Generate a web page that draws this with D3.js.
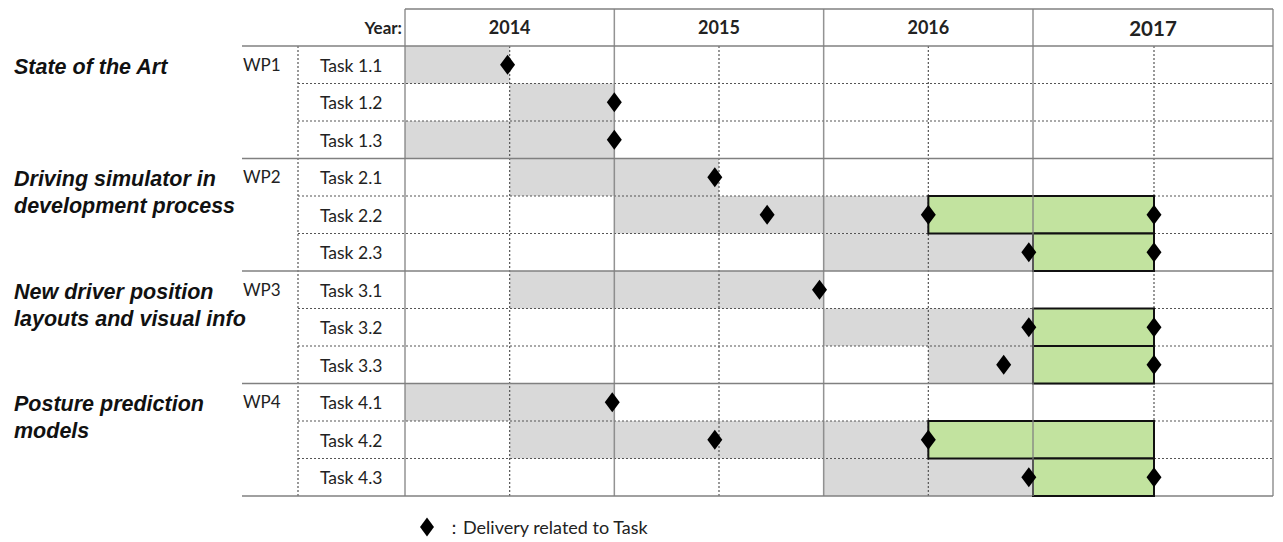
<!DOCTYPE html>
<html>
<head>
<meta charset="utf-8">
<script src="https://cdn.jsdelivr.net/npm/d3@7"></script>
<style>
  body { margin: 0; background: #fff; }
  svg { display: block; }
  .lbl { font-family: Lato, "Open Sans", sans-serif; fill: #222; }
  .wpt { font-family: "Liberation Sans", Arial, sans-serif; font-weight: bold; font-style: italic; font-size: 21.5px; fill: #111; }
</style>
</head>
<body>
<div id="chart"></div>
<script>
// years shown in header
const years = [2014, 2015, 2016, 2017];
const tasks = ["Task 1.1", "Task 1.2", "Task 1.3", "Task 2.1", "Task 2.2", "Task 2.3",
               "Task 3.1", "Task 3.2", "Task 3.3", "Task 4.1", "Task 4.2", "Task 4.3"];
const wps = ["WP1", "WP2", "WP3", "WP4"];
const wpTitles = [
  ["State of the Art"],
  ["Driving simulator in", "development process"],
  ["New driver position", "layouts and visual info"],
  ["Posture prediction", "models"]
];
// grey bars (work period), in years
const greyStart = [2014.0, 2014.5, 2014.0, 2014.5, 2015.0, 2016.0, 2014.5, 2016.0, 2016.5, 2014.0, 2014.5, 2016.0];
const greyEnd   = [2014.5, 2015.0, 2015.0, 2015.5, 2016.5, 2017.0, 2016.0, 2017.0, 2017.0, 2015.0, 2016.5, 2017.0];
// green bars (extension), null = none
const greenStart = [null, null, null, null, 2016.5, 2017.0, null, 2017.0, 2017.0, null, 2016.5, 2017.0];
const greenEnd   = [null, null, null, null, 2017.5, 2017.5, null, 2017.5, 2017.5, null, 2017.5, 2017.5];
// deliveries per task
const deliveries = [
  [2014.49], [2015.0], [2015.0], [2015.48], [2015.73, 2016.5, 2017.5], [2016.98, 2017.5],
  [2015.98], [2016.98, 2017.5], [2016.86, 2017.5], [2014.99], [2015.48, 2016.5], [2016.98, 2017.5]
];

const width = 1283, height = 542;
const svg = d3.select("#chart").append("svg")
  .attr("width", width)
  .attr("height", height);

// 2017 column is drawn a bit wider than the others
const x = d3.scaleLinear()
  .domain([2014, 2017, 2017.5, 2018])
  .range([405, 1033, 1154, 1273]);
const y = d3.scaleBand()
  .domain(tasks)
  .range([46, 496]);

const headTop = 9, headBottom = 46, bottom = 496;
const solid = "#808080", dotted = "#555";

// grey bars
svg.append("g").selectAll("rect")
  .data(tasks)
  .enter().append("rect")
  .attr("x", (d, i) => x(greyStart[i]))
  .attr("width", (d, i) => x(greyEnd[i]) - x(greyStart[i]))
  .attr("y", d => y(d))
  .attr("height", y.bandwidth())
  .attr("fill", "#d9d9d9");

const grid = svg.append("g");

// dotted row separators inside a WP
grid.selectAll(".row")
  .data(tasks.filter((d, i) => i % 3 !== 0))
  .enter().append("line")
  .attr("x1", 298).attr("x2", x(2018))
  .attr("y1", d => y(d)).attr("y2", d => y(d))
  .attr("stroke", dotted).attr("stroke-width", 1.2)
  .attr("stroke-dasharray", "2,2");

// half-year dotted verticals
grid.selectAll(".half")
  .data(years)
  .enter().append("line")
  .attr("x1", d => x(d + 0.5)).attr("x2", d => x(d + 0.5))
  .attr("y1", headBottom).attr("y2", bottom)
  .attr("stroke", dotted).attr("stroke-width", 1.2)
  .attr("stroke-dasharray", "2,2");

// left dotted vertical
grid.append("line")
  .attr("x1", 298).attr("x2", 298)
  .attr("y1", headBottom).attr("y2", bottom)
  .attr("stroke", dotted).attr("stroke-width", 1.2)
  .attr("stroke-dasharray", "2,2");

// WP separators + header bottom
const wpLines = [headBottom].concat(tasks.filter((d, i) => i % 3 === 0 && i > 0).map(d => y(d)), [bottom]);
grid.selectAll(".wp")
  .data(wpLines)
  .enter().append("line")
  .attr("x1", 242).attr("x2", x(2018))
  .attr("y1", d => d).attr("y2", d => d)
  .attr("stroke", solid).attr("stroke-width", 1.5);

// header top
grid.append("line")
  .attr("x1", x(2014)).attr("x2", x(2018))
  .attr("y1", headTop).attr("y2", headTop)
  .attr("stroke", solid).attr("stroke-width", 1.5);

// green bars
svg.append("g").selectAll("rect")
  .data(tasks.filter((d, i) => greenStart[i] !== null))
  .enter().append("rect")
  .attr("x", d => x(greenStart[tasks.indexOf(d)]))
  .attr("width", d => x(greenEnd[tasks.indexOf(d)]) - x(greenStart[tasks.indexOf(d)]))
  .attr("y", d => y(d))
  .attr("height", y.bandwidth())
  .attr("fill", "#c2e39f")
  .attr("stroke", "#111")
  .attr("stroke-width", 2);

// year solid verticals (drawn over the green, lightly)
svg.append("g").selectAll("line")
  .data(years.concat([2018]))
  .enter().append("line")
  .attr("x1", d => x(d)).attr("x2", d => x(d))
  .attr("y1", headTop).attr("y2", bottom)
  .attr("stroke", solid).attr("stroke-width", 1.5)
  .attr("stroke-opacity", 0.85);

// diamonds
const diamond = (w, h) => d3.line()([[0, -h / 2], [w / 2, 0], [0, h / 2], [-w / 2, 0]]) + "Z";
const dd = [];
tasks.forEach((t, i) => deliveries[i].forEach(v => dd.push({ t: t, v: v })));
svg.append("g").selectAll("path")
  .data(dd)
  .enter().append("path")
  .attr("d", diamond(15, 20))
  .attr("transform", d => "translate(" + x(d.v) + "," + (y(d.t) + y.bandwidth() / 2) + ")")
  .attr("fill", "#000");

// header texts
svg.append("text")
  .attr("class", "lbl")
  .attr("x", 402).attr("y", 34)
  .attr("text-anchor", "end")
  .style("font-weight", "bold").style("font-size", "17px")
  .text("Year:");
svg.selectAll(".yr")
  .data(years)
  .enter().append("text")
  .attr("class", "lbl")
  .attr("x", d => (x(d) + x(d + 1)) / 2)
  .attr("y", d => d === 2017 ? 36 : 34)
  .attr("text-anchor", "middle")
  .style("font-weight", "bold")
  .style("font-size", d => d === 2017 ? "20.5px" : "18px")
  .text(d => d);

// task labels
svg.selectAll(".task")
  .data(tasks)
  .enter().append("text")
  .attr("class", "lbl")
  .attr("x", 320)
  .attr("y", d => y(d) + y.bandwidth() / 2 + 7)
  .style("font-size", "17.5px")
  .text(d => d);

// WP labels
svg.selectAll(".wpl")
  .data(wps)
  .enter().append("text")
  .attr("class", "lbl")
  .attr("x", 243)
  .attr("y", (d, i) => y(tasks[i * 3]) + y.bandwidth() / 2 + 6)
  .style("font-size", "17px")
  .text(d => d);

// WP titles
const wt = svg.selectAll(".wpt")
  .data(wpTitles)
  .enter().append("text")
  .attr("class", "wpt")
  .attr("x", 14)
  .attr("y", (d, i) => y(tasks[i * 3]) + y.bandwidth() / 2 + 9);
wt.selectAll("tspan")
  .data(d => d)
  .enter().append("tspan")
  .attr("x", 14)
  .attr("dy", (d, j) => j === 0 ? 0 : 27)
  .text(d => d);

// legend
svg.append("path")
  .attr("d", diamond(14, 19))
  .attr("transform", "translate(427,527)")
  .attr("fill", "#000");
svg.append("text")
  .attr("class", "lbl")
  .attr("x", 445).attr("y", 534)
  .style("font-size", "18px")
  .text("：Delivery related to Task");
</script>
</body>
</html>
